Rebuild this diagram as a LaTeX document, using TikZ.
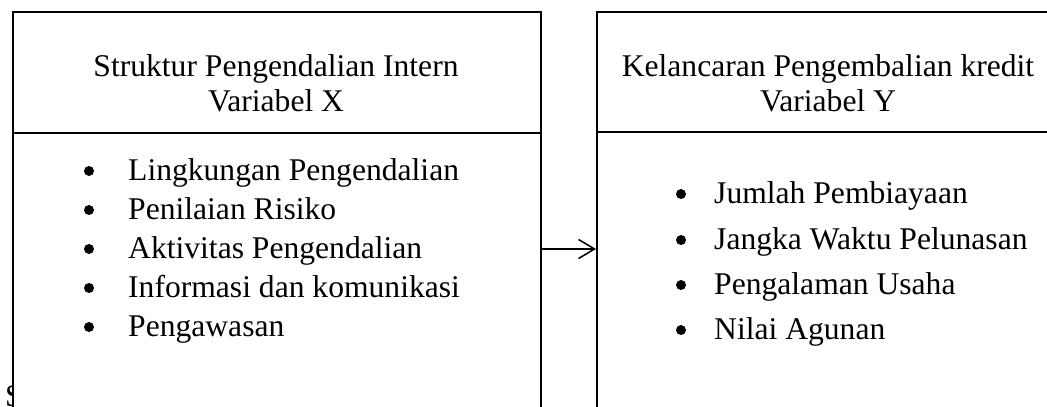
\documentclass[tikz,border=0pt]{standalone}
\usepackage{fontspec}
\setmainfont{Liberation Serif}
\usetikzlibrary{arrows.meta}
\begin{document}
\begin{tikzpicture}[x=1pt,y=-1pt,font=\fontsize{31.6}{38}\selectfont,
  box/.style={draw,line width=1.5pt,fill=white,inner sep=0pt,anchor=north west},
  rule/.style={line width=1.5pt},
  txt/.style={anchor=base,inner sep=0pt},
  itm/.style={anchor=base west,inner sep=0pt},
  bul/.style={circle,fill=black,inner sep=0pt,minimum size=10pt},
  conn/.style={line width=1.5pt,-{Straight Barb[length=16pt,width=19pt,line width=1.5pt]}}]
\useasboundingbox (0,0) rectangle (1047,407);
\clip (0,0) rectangle (1047,407);
% partial stray letter behind the left box
\node[itm] (s) at (5,406) {S};
% boxes
\node[box,minimum width=528pt,minimum height=460pt] (L) at (12,11) {};
\node[box,minimum width=470pt,minimum height=460pt] (R) at (596,11) {};
% header dividers
\draw[rule] (L.west |- 0,133) -- (L.east |- 0,133);
\draw[rule] (R.west |- 0,132) -- (R.east |- 0,132);
% headers
\node[txt] (lh1) at (276,76) {Struktur Pengendalian Intern};
\node[txt] (lh2) at (276,111) {Variabel X};
\node[txt] (rh1) at (828,76) {Kelancaran Pengembalian kredit};
\node[txt] (rh2) at (828,111) {Variabel Y};
% left items
\foreach \y/\t [count=\i] in {180/Lingkungan Pengendalian,219/Penilaian Risiko,258/Aktivitas Pengendalian,297/Informasi dan komunikasi,336/Pengawasan}{
  \node[bul] (lb\i) at (89,\y-9) {};
  \node[itm] (li\i) at (128,\y) {\t};
}
% right items
\foreach \y/\t [count=\i] in {203/Jumlah Pembiayaan,249/Jangka Waktu Pelunasan,294/Pengalaman Usaha,339/Nilai Agunan}{
  \node[bul] (rb\i) at (681,\y-9) {};
  \node[itm] (ri\i) at (714,\y) {\t};
}
% connector
\draw[conn] (L.east |- 0,249) -- (R.west |- 0,249);
\end{tikzpicture}
\end{document}
